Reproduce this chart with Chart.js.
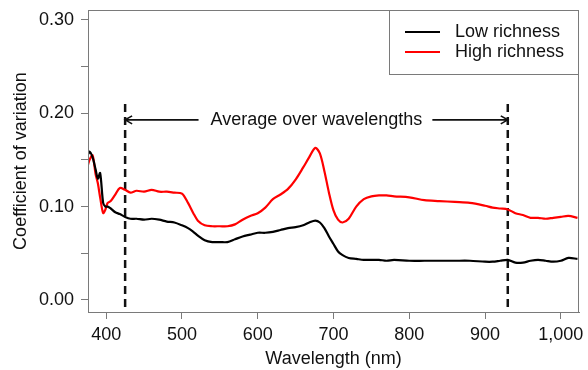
<!DOCTYPE html>
<html>
<head>
<meta charset="utf-8">
<script src="https://cdn.jsdelivr.net/npm/chart.js@4"></script>
<style>
  html, body { margin: 0; padding: 0; background: #fff; }
  #wrap { width: 588px; height: 370px; }
</style>
</head>
<body>
<div id="wrap"><canvas id="myChart"></canvas></div>
<script>
// wavelength grid (nm) shared by both curves
const wavelengths = [376, 378, 382, 386, 389, 392, 396, 399, 402, 406, 412, 418, 425, 432, 440, 450,
    460, 470, 480, 490, 500, 508, 515, 521, 530, 540, 550, 560, 570, 580, 590, 600, 610, 620, 630,
    640, 650, 660, 668, 676, 682, 688, 694, 700, 706, 712, 720, 730, 740, 750, 760, 770, 780, 800,
    820, 840, 860, 880, 900, 910, 920, 930, 940, 950, 960, 970, 980, 990, 1000, 1010, 1022];

const lowRichness = [0.156, 0.159, 0.153, 0.140, 0.130, 0.136, 0.104, 0.100, 0.100, 0.098, 0.094, 0.092,
    0.089, 0.087, 0.087, 0.086, 0.087, 0.086, 0.084, 0.083, 0.080, 0.077, 0.073, 0.069, 0.064, 0.062,
    0.062, 0.062, 0.065, 0.068, 0.070, 0.072, 0.072, 0.073, 0.075, 0.077, 0.078, 0.080, 0.083, 0.085,
    0.083, 0.077, 0.068, 0.060, 0.052, 0.048, 0.045, 0.044, 0.043, 0.043, 0.043, 0.042, 0.043, 0.042,
    0.042, 0.042, 0.042, 0.042, 0.041, 0.041, 0.042, 0.043, 0.040, 0.040, 0.042, 0.043, 0.042, 0.041,
    0.042, 0.045, 0.044];

const highRichness = [0.145, 0.150, 0.155, 0.135, 0.125, 0.110, 0.093, 0.097, 0.104, 0.106, 0.113, 0.120,
    0.118, 0.115, 0.117, 0.116, 0.118, 0.116, 0.116, 0.115, 0.114, 0.104, 0.093, 0.085, 0.080, 0.079,
    0.079, 0.079, 0.081, 0.086, 0.090, 0.093, 0.099, 0.108, 0.113, 0.119, 0.129, 0.142, 0.153, 0.163,
    0.157, 0.138, 0.115, 0.096, 0.086, 0.083, 0.087, 0.100, 0.108, 0.111, 0.112, 0.112, 0.111, 0.110,
    0.107, 0.106, 0.105, 0.104, 0.101, 0.099, 0.098, 0.097, 0.093, 0.091, 0.088, 0.088, 0.087, 0.088,
    0.089, 0.090, 0.088];

const seriesLabels = ['Low richness', 'High richness'];
const avgBounds = [425, 930];      // dashed lines (nm)
const dashTop = 0.21;
const arrowY = 0.193;
const noteText = 'Average over wavelengths';

const xMin = 376, xMax = 1024;
const yMin = -0.0129, yMax = 0.3107;

const FONT = 'Liberation Sans, Arial, sans-serif';
const AXIS = '#7a7a7a';

function toPoints(xs, ys) {
    return xs.map((x, i) => ({ x: x, y: ys[i] }));
}

// no extra room for edge tick labels, layout padding decides the plot box
function fixPadding(scale) {
    scale.paddingTop = 0;
    scale.paddingBottom = 0;
    scale.paddingLeft = 0;
    scale.paddingRight = 0;
}

const boxPlugin = {
    id: 'box',
    afterDatasetsDraw(chart) {
        const { ctx, chartArea: a, scales } = chart;
        ctx.save();
        ctx.strokeStyle = AXIS;
        ctx.lineWidth = 1;
        ctx.strokeRect(a.left + 0.5, a.top + 0.5, a.right - a.left - 1, a.bottom - a.top);

        // arrows + note
        const y = scales.y.getPixelForValue(arrowY);
        const x1 = scales.x.getPixelForValue(avgBounds[0]);
        const x2 = scales.x.getPixelForValue(avgBounds[1]);
        const mid = (x1 + x2) / 2;
        ctx.font = '18px ' + FONT;
        ctx.fillStyle = '#111';
        ctx.textAlign = 'center';
        ctx.textBaseline = 'middle';
        ctx.fillText(noteText, mid, y);
        const w = ctx.measureText(noteText).width;
        ctx.strokeStyle = '#111';
        ctx.lineWidth = 1.6;
        ctx.beginPath();
        ctx.moveTo(mid - w / 2 - 12, y);
        ctx.lineTo(x1, y);
        ctx.moveTo(x1 + 7, y - 4);
        ctx.lineTo(x1, y);
        ctx.lineTo(x1 + 7, y + 4);
        ctx.moveTo(mid + w / 2 + 10, y);
        ctx.lineTo(x2, y);
        ctx.moveTo(x2 - 7, y - 4);
        ctx.lineTo(x2, y);
        ctx.lineTo(x2 - 7, y + 4);
        ctx.stroke();

        // legend box
        const lx = a.right - 190;
        ctx.fillStyle = '#fff';
        ctx.fillRect(lx, a.top, a.right - lx, 64);
        ctx.strokeStyle = AXIS;
        ctx.lineWidth = 1;
        ctx.strokeRect(lx + 0.5, a.top + 0.5, a.right - lx - 1, 64);
        ctx.font = '18px ' + FONT;
        ctx.textAlign = 'left';
        chart.data.datasets.slice(0, 2).forEach((ds, i) => {
            const ly = a.top + 22 + i * 20;
            ctx.strokeStyle = ds.borderColor;
            ctx.lineWidth = 2;
            ctx.beginPath();
            ctx.moveTo(lx + 16, ly);
            ctx.lineTo(lx + 51, ly);
            ctx.stroke();
            ctx.fillStyle = '#111';
            ctx.fillText(ds.label, lx + 66, ly);
        });
        ctx.restore();
    }
};

const ctx = document.getElementById('myChart');

new Chart(ctx, {
    type: 'line',
    data: {
        datasets: [{
            label: seriesLabels[0],
            data: toPoints(wavelengths, lowRichness),
            borderColor: '#000000',
            borderWidth: 2.2,
            pointRadius: 0,
            tension: 0.3
        }, {
            label: seriesLabels[1],
            data: toPoints(wavelengths, highRichness),
            borderColor: '#ff0000',
            borderWidth: 2.2,
            pointRadius: 0,
            tension: 0.3
        }, {
            label: 'start',
            data: [{ x: avgBounds[0], y: dashTop }, { x: avgBounds[0], y: yMin }],
            borderColor: '#111',
            borderWidth: 2.5,
            borderDash: [8, 5],
            pointRadius: 0
        }, {
            label: 'end',
            data: [{ x: avgBounds[1], y: dashTop }, { x: avgBounds[1], y: yMin }],
            borderColor: '#111',
            borderWidth: 2.5,
            borderDash: [8, 5],
            pointRadius: 0
        }]
    },
    options: {
        responsive: true,
        maintainAspectRatio: false,
        animation: false,
        layout: { padding: { left: 0, right: 9, top: 10, bottom: 0 } },
        plugins: {
            legend: { display: false },
            tooltip: { enabled: false }
        },
        scales: {
            x: {
                type: 'linear',
                min: xMin,
                max: xMax,
                afterFit(scale) { scale.height = 58; fixPadding(scale); },
                border: { display: true, color: AXIS },
                grid: { drawOnChartArea: false, drawTicks: true, tickLength: 7, color: AXIS },
                ticks: {
                    stepSize: 100,
                    includeBounds: false,
                    autoSkip: false,
                    maxRotation: 0,
                    padding: 5,
                    color: '#111',
                    font: { family: FONT, size: 18 },
                    callback: v => v.toLocaleString('en-US')
                },
                title: {
                    display: true,
                    text: 'Wavelength (nm)',
                    color: '#111',
                    font: { family: FONT, size: 18 },
                    padding: { top: 4, bottom: 0 }
                }
            },
            y: {
                min: yMin,
                max: yMax,
                afterFit(scale) { scale.width = 88; fixPadding(scale); },
                border: { display: true, color: AXIS },
                grid: { drawOnChartArea: false, drawTicks: true, tickLength: 7, color: AXIS },
                ticks: {
                    stepSize: 0.05,
                    includeBounds: false,
                    autoSkip: false,
                    padding: 7,
                    color: '#111',
                    font: { family: FONT, size: 18 },
                    callback: v => (Math.round(v * 100) % 10 === 0 ? v.toFixed(2) : '')
                },
                title: {
                    display: true,
                    text: 'Coefficient of variation',
                    color: '#111',
                    font: { family: FONT, size: 18 },
                    padding: { top: 10, bottom: 0 }
                }
            }
        }
    },
    plugins: [boxPlugin]
});
</script>
</body>
</html>
